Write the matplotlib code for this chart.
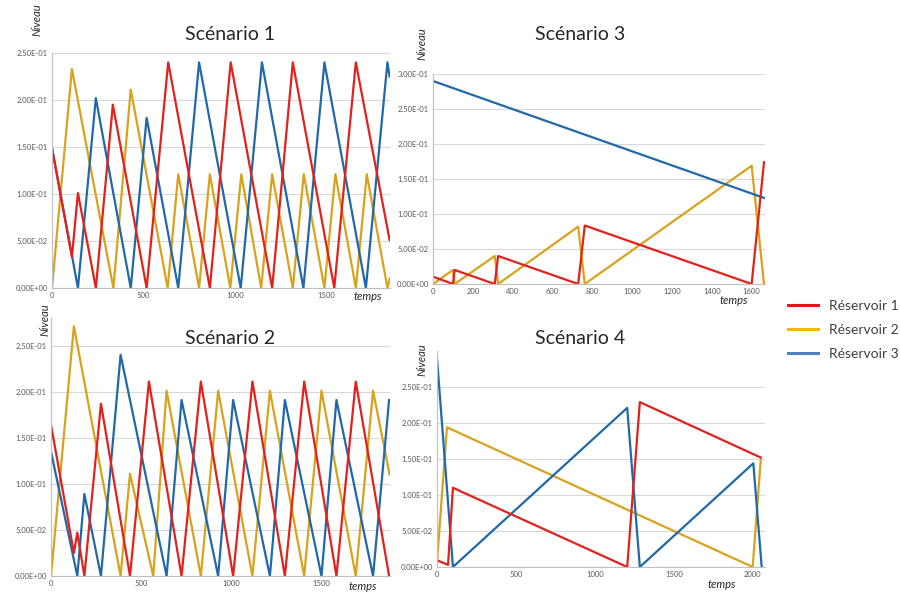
# Niveaux des réservoirs - 4 scénarios
import matplotlib.pyplot as plt
from matplotlib.lines import Line2D
from matplotlib.ticker import FuncFormatter

plt.rcParams['font.family'] = ['Lato', 'DejaVu Sans']

rouge = '#E2211C'
jaune = '#D8A21C'
bleu = '#2068A8'

# Scénario 1
s1_r1_t = [0, 109, 142, 240, 333, 518, 636, 864, 978, 1205, 1318, 1545, 1663, 1848]
s1_r1 = [0.149, 0.033, 0.101, 0.0, 0.195, 0.0, 0.240, 0.0, 0.240, 0.0, 0.240, 0.0, 0.240, 0.051]
s1_r2_t = [0, 109, 336, 431, 633, 691, 805, 864, 976, 1036, 1145, 1205, 1318, 1378, 1491,
           1551, 1663, 1723, 1836, 1848]
s1_r2 = [0.0, 0.233, 0.0, 0.211, 0.0, 0.121, 0.0, 0.121, 0.0, 0.121, 0.0, 0.121, 0.0, 0.121, 0.0,
         0.121, 0.0, 0.121, 0.0, 0.01]
s1_r3_t = [0, 142, 240, 431, 518, 691, 805, 1033, 1149, 1376, 1491, 1718, 1836, 1848]
s1_r3 = [0.149, 0.0, 0.202, 0.0, 0.181, 0.0, 0.240, 0.0, 0.240, 0.0, 0.240, 0.0, 0.240, 0.225]

# Scénario 2
s2_r1_t = [0, 127, 146, 185, 277, 438, 543, 724, 831, 1010, 1117, 1297, 1404, 1583, 1690, 1875]
s2_r1 = [0.164, 0.025, 0.047, 0.0, 0.187, 0.0, 0.211, 0.0, 0.211, 0.0, 0.211, 0.0, 0.211, 0.0, 0.211, 0.0]
s2_r2_t = [0, 127, 386, 438, 567, 641, 831, 927, 1117, 1214, 1404, 1500, 1690, 1786, 1878]
s2_r2 = [0.0, 0.271, 0.0, 0.111, 0.0, 0.201, 0.0, 0.201, 0.0, 0.201, 0.0, 0.201, 0.0, 0.201, 0.110]
s2_r3_t = [0, 146, 185, 277, 386, 641, 724, 927, 1010, 1214, 1297, 1500, 1583, 1786, 1875]
s2_r3 = [0.135, 0.0, 0.089, 0.0, 0.240, 0.0, 0.191, 0.0, 0.191, 0.0, 0.191, 0.0, 0.191, 0.0, 0.191]

# Scénario 3
s3_r1_t = [0, 100, 109, 310, 327, 729, 762, 1600, 1662]
s3_r1 = [0.0105, 0.0, 0.020, 0.0, 0.040, 0.0, 0.0835, 0.0, 0.174]
s3_r2_t = [0, 100, 109, 310, 327, 729, 762, 1600, 1662]
s3_r2 = [0.0, 0.020, 0.0, 0.040, 0.0, 0.082, 0.0, 0.169, 0.0]
s3_r3_t = [0, 1662]
s3_r3 = [0.290, 0.123]

# Scénario 4
s4_r1_t = [0, 70, 101, 1205, 1285, 2051]
s4_r1 = [0.0093, 0.003, 0.110, 0.0, 0.229, 0.152]
s4_r2_t = [0, 63, 2000, 2051]
s4_r2 = [0.007, 0.194, 0.0, 0.149]
s4_r3_t = [0, 101, 1205, 1285, 2004, 2057]
s4_r3 = [0.290, 0.0, 0.221, 0.0, 0.144, 0.0]

fig = plt.figure(figsize=(9, 5.95), dpi=100)


def px(x, y, w, h):
    return [x / 900, 1 - (y + h) / 595, w / 900, h / 595]


def courbes(ax, donnees, xmax, ymax, yticks, xticks):
    for t, v, c in donnees:
        ax.plot(t, v, color=c, lw=1.6)
    ax.set_xlim(0, xmax)
    ax.set_ylim(0, ymax)
    ax.set_yticks(yticks)
    ax.set_xticks(xticks)
    ax.yaxis.set_major_formatter(FuncFormatter(lambda v, p: f'{v:.2E}'))
    ax.grid(axis='y', color='#D9D9D9', lw=0.8)
    ax.set_axisbelow(True)
    for s in ['top', 'right']:
        ax.spines[s].set_visible(False)
    for s in ['left', 'bottom']:
        ax.spines[s].set_color('#BFBFBF')
        ax.spines[s].set_linewidth(0.8)
    ax.tick_params(length=0, labelsize=5.5, labelcolor='#595959', pad=3)


ax1 = fig.add_axes(px(52, 53, 338, 235))
courbes(ax1, [(s1_r2_t, s1_r2, jaune), (s1_r3_t, s1_r3, bleu), (s1_r1_t, s1_r1, rouge)],
        1850, 0.25, [0, 0.05, 0.1, 0.15, 0.2, 0.25], [0, 500, 1000, 1500])

ax2 = fig.add_axes(px(51, 318, 339, 258))
courbes(ax2, [(s2_r2_t, s2_r2, jaune), (s2_r3_t, s2_r3, bleu), (s2_r1_t, s2_r1, rouge)],
        1880, 0.28, [0, 0.05, 0.1, 0.15, 0.2, 0.25], [0, 500, 1000, 1500])

ax3 = fig.add_axes(px(433, 74, 332, 210))
courbes(ax3, [(s3_r2_t, s3_r2, jaune), (s3_r3_t, s3_r3, bleu), (s3_r1_t, s3_r1, rouge)],
        1667, 0.30, [0, 0.05, 0.1, 0.15, 0.2, 0.25, 0.3], list(range(0, 1601, 200)))

ax4 = fig.add_axes(px(437, 351, 328, 216))
courbes(ax4, [(s4_r2_t, s4_r2, jaune), (s4_r3_t, s4_r3, bleu), (s4_r1_t, s4_r1, rouge)],
        2078, 0.30, [0, 0.05, 0.1, 0.15, 0.2, 0.25], [0, 500, 1000, 1500, 2000])

# titres et noms d'axes
for x, y, txt in [(230, 35, 'Scénario 1'), (230, 339, 'Scénario 2'),
                  (580, 34, 'Scénario 3'), (580, 339, 'Scénario 4')]:
    fig.text(x / 900, 1 - y / 595, txt, ha='center', va='center', fontsize=14, color='#262626')

for x, y in [(37, 20), (45, 320), (422, 44), (422, 360)]:
    fig.text(x / 900, 1 - y / 595, 'Niveau', rotation=90, ha='center', va='center',
             fontsize=8, style='italic', color='#262626')

for x, y in [(368, 297), (363, 587), (734, 301), (722, 584)]:
    fig.text(x / 900, 1 - y / 595, 'temps', ha='center', va='center',
             fontsize=8, style='italic', color='#262626')

poignees = [Line2D([], [], color='#E8141B', lw=2.2),
            Line2D([], [], color='#F5B800', lw=2.2),
            Line2D([], [], color='#4F81BD', lw=2.2)]
fig.legend(poignees, ['Réservoir 1', 'Réservoir 2', 'Réservoir 3'],
           loc='center left', bbox_to_anchor=(775 / 900, 1 - 330 / 595),
           frameon=False, fontsize=10, handlelength=2.2, labelspacing=0.85,
           handletextpad=0.8, labelcolor='#404040')

plt.savefig('out.png', dpi=100)
